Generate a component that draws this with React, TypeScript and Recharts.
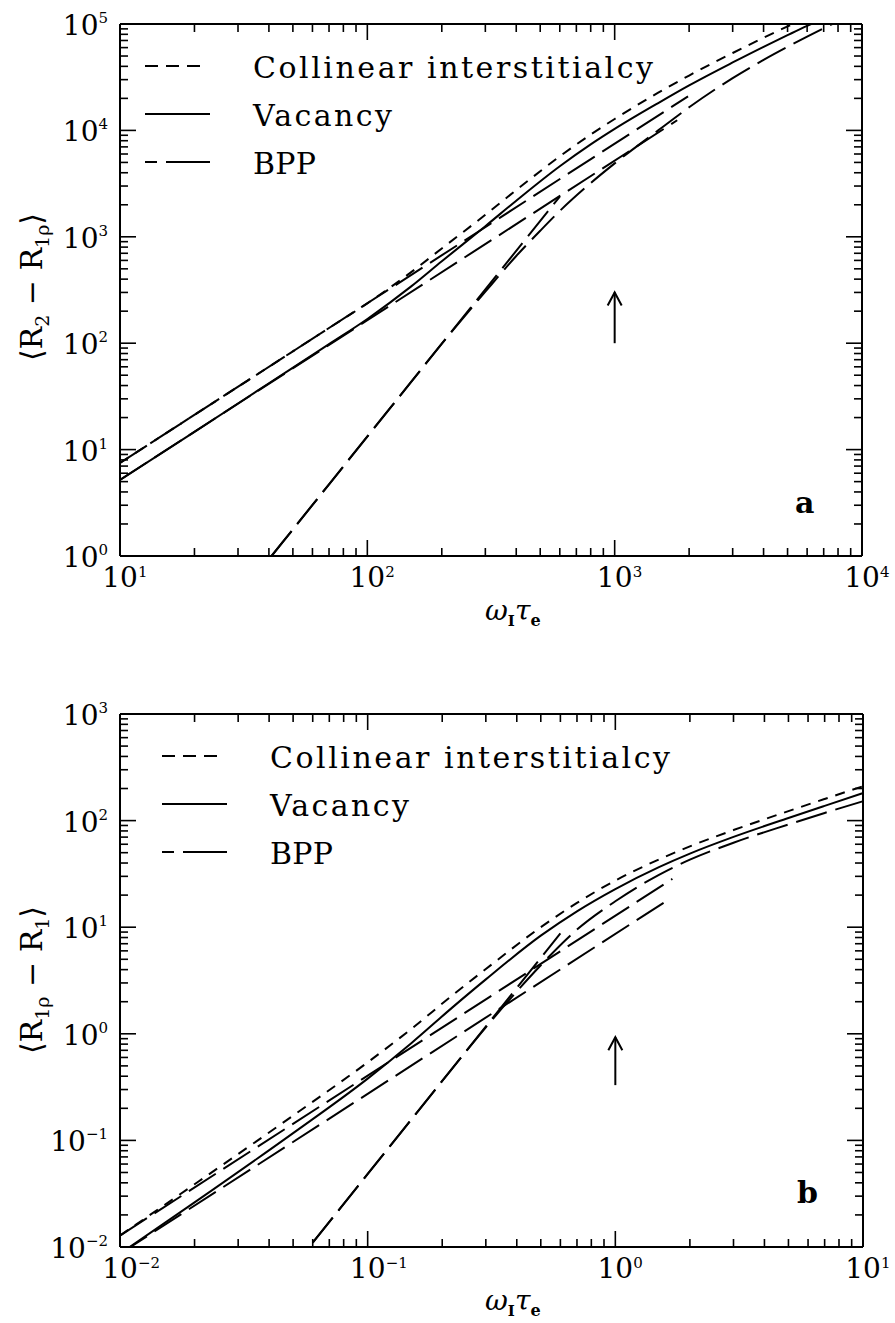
import React from 'react';
import { LineChart, Line, XAxis, YAxis, Legend, Customized } from 'recharts';

const FONT = "'DejaVu Serif', 'Liberation Serif', serif";

// ---------- Panel a : <R2 - R1rho> vs omega_I tau_e ----------
const collA_x = [10, 20, 40, 70, 100, 150, 200, 300, 400, 600, 800, 1000, 1500, 2000, 3000, 4000, 5000, 5600];
const collA_y = [7.5, 21.2, 60, 139, 237, 463, 777, 1610, 2750, 5700, 9150, 12800, 22600, 32800, 53400, 74300, 94900, 107000];
const vacA_x = [10, 20, 40, 70, 100, 150, 200, 300, 400, 600, 800, 1000, 1500, 2000, 3000, 4000, 5000, 6000, 6600];
const vacA_y = [5.2, 14.7, 42, 98, 169, 340, 589, 1258, 2183, 4597, 7379, 10320, 18080, 26500, 43500, 61000, 78500, 96000, 106000];
const bppA_x = [41, 60, 100, 150, 200, 300, 400, 500, 600, 800, 1000, 1500, 2000, 3000, 4000, 5000, 6000, 7000, 8000];
const bppA_y = [1, 3.02, 13.3, 43, 99, 305, 660, 1140, 1750, 3200, 4900, 10000, 16500, 31000, 46000, 61000, 76000, 91000, 106000];
const asymCA_x = [10, 1980];
const asymCA_y = [7.5, 20900];
const asymVA_x = [10, 1790];
const asymVA_y = [5.2, 12450];
const asymBA_x = [41, 600];
const asymBA_y = [1, 2390];
const arrowA_x = [1000, 1000];
const arrowA_y = [100, 300];

// ---------- Panel b : <R1rho - R1> vs omega_I tau_e ----------
const collB_x = [0.01, 0.02, 0.05, 0.1, 0.15, 0.22, 0.3, 0.5, 0.7, 1, 1.5, 2, 3, 5, 7, 10];
const collB_y = [0.0128, 0.0388, 0.171, 0.54, 1.11, 2.3, 4.05, 10.0, 16.9, 27.4, 43.2, 57.3, 81.5, 122.7, 159.5, 209.9];
const vacB_x = [0.01, 0.02, 0.05, 0.1, 0.15, 0.22, 0.3, 0.5, 0.7, 1, 1.5, 2, 3, 5, 7, 10];
const vacB_y = [0.00865, 0.0262, 0.117, 0.38, 0.816, 1.77, 3.24, 8.33, 14.1, 22.8, 36.6, 49.0, 70.3, 105.8, 137.5, 181];
const bppB_x = [0.06, 0.1, 0.15, 0.2, 0.3, 0.4, 0.5, 0.7, 1, 1.5, 2, 3, 5, 7, 10];
const bppB_y = [0.011, 0.0484, 0.157, 0.361, 1.15, 2.5, 4.4, 9.5, 17.5, 31, 43, 62, 92, 118, 152];
const asymCB_x = [0.01, 1.7];
const asymCB_y = [0.0128, 28.4];
const asymVB_x = [0.01, 1.6];
const asymVB_y = [0.00865, 17.5];
const asymBB_x = [0.06, 0.6];
const asymBB_y = [0.011, 8.74];
const arrowB_x = [1, 1];
const arrowB_y = [0.33, 0.93];

// ---------- ticks ----------
const ticksXA = [10, 20, 30, 40, 50, 60, 70, 80, 90, 100, 200, 300, 400, 500, 600, 700, 800, 900, 1000, 2000, 3000, 4000, 5000, 6000, 7000, 8000, 9000, 10000];
const ticksYA = [1, 2, 3, 4, 5, 6, 7, 8, 9, 10, 20, 30, 40, 50, 60, 70, 80, 90, 100, 200, 300, 400, 500, 600, 700, 800, 900, 1000, 2000, 3000, 4000, 5000, 6000, 7000, 8000, 9000, 10000, 20000, 30000, 40000, 50000, 60000, 70000, 80000, 90000, 100000];
const ticksXB = [0.01, 0.02, 0.03, 0.04, 0.05, 0.06, 0.07, 0.08, 0.09, 0.1, 0.2, 0.3, 0.4, 0.5, 0.6, 0.7, 0.8, 0.9, 1, 2, 3, 4, 5, 6, 7, 8, 9, 10];
const ticksYB = [0.01, 0.02, 0.03, 0.04, 0.05, 0.06, 0.07, 0.08, 0.09, 0.1, 0.2, 0.3, 0.4, 0.5, 0.6, 0.7, 0.8, 0.9, 1, 2, 3, 4, 5, 6, 7, 8, 9, 10, 20, 30, 40, 50, 60, 70, 80, 90, 100, 200, 300, 400, 500, 600, 700, 800, 900, 1000];

const legendNames = ['Collinear interstitialcy', 'Vacancy', 'BPP'];

const zip = (xs: number[], ys: number[]) => xs.map((x, i) => ({ x, y: ys[i] }));

const isMajor = (v: number) => Math.abs(Math.log10(v) - Math.round(Math.log10(v))) < 1e-6;
const fmtExp = (v: number) => {
  const e = Math.round(Math.log10(v));
  return e < 0 ? '\u2212' + String(-e) : String(e);
};

const MAJ = 16;
const MIN = 8;

function BottomTick(props: any) {
  const { x, y, payload, showLabel } = props;
  const v = payload.value;
  const major = isMajor(v);
  return (
    <g>
      <line x1={x} x2={x} y1={y} y2={y - (major ? MAJ : MIN)} stroke="#000" strokeWidth={1.6} />
      {showLabel && major ? (
        <g>
          <text x={x} y={y + 31} textAnchor="middle" fontFamily={FONT} fontSize={28} fill="#000">10</text>
          <text x={x + 18} y={y + 21} textAnchor="start" fontFamily={FONT} fontSize={15} fill="#000">{fmtExp(v)}</text>
        </g>
      ) : null}
    </g>
  );
}

function TopTick(props: any) {
  const { x, y, payload } = props;
  const major = isMajor(payload.value);
  return <line x1={x} x2={x} y1={y} y2={y + (major ? MAJ : MIN)} stroke="#000" strokeWidth={1.6} />;
}

function LeftTick(props: any) {
  const { x, y, payload } = props;
  const v = payload.value;
  const major = isMajor(v);
  return (
    <g>
      <line x1={x} x2={x + (major ? MAJ : MIN)} y1={y} y2={y} stroke="#000" strokeWidth={1.6} />
      {major ? (
        <text x={x - 12} y={y + 11} textAnchor="end" fontFamily={FONT} fontSize={28} fill="#000">
          10<tspan dy={-12} fontSize={15}>{fmtExp(v)}</tspan>
        </text>
      ) : null}
    </g>
  );
}

function RightTick(props: any) {
  const { x, y, payload } = props;
  const major = isMajor(payload.value);
  return <line x1={x} x2={x - (major ? MAJ : MIN)} y1={y} y2={y} stroke="#000" strokeWidth={1.6} />;
}

const SHORT = '10 8';
const LONG = '32 9';

function LegendBox() {
  const dashes = ['13 8', undefined, '12 9 100'];
  const lens = [55, 65, 65];
  const widths = [400, 139, 63];
  return (
    <svg width={640} height={140} style={{ display: 'block', overflow: 'visible' }}>
      {legendNames.map((n, i) => (
        <g key={n}>
          <line x1={5} x2={5 + lens[i]} y1={26 + 48 * i} y2={26 + 48 * i} stroke="#000" strokeWidth={2} strokeDasharray={dashes[i]} />
          <text x={113} y={38 + 48 * i} fontFamily={FONT} fontSize={30} fill="#000" textLength={widths[i]} lengthAdjust="spacing">{n}</text>
        </g>
      ))}
    </svg>
  );
}

const arrowDot = (p: any) => {
  if (p.index === 1) {
    return (
      <path key={'ah' + p.index} d={`M${p.cx - 7},${p.cy + 13} L${p.cx},${p.cy} L${p.cx + 7},${p.cy + 13}`} fill="none" stroke="#000" strokeWidth={2} />
    );
  }
  return <g key={'ad' + p.index} />;
};

type Pts = { x: number; y: number }[];
type PanelProps = {
  top: number;
  height: number;
  plotBottom: number;
  plotRight: number;
  domX: [number, number];
  domY: [number, number];
  ticksX: number[];
  ticksY: number[];
  coll: Pts;
  vac: Pts;
  bpp: Pts;
  asymC: Pts;
  asymV: Pts;
  asymB: Pts;
  arrow: Pts;
  legendLeft: number;
  letter: string;
  letterX: number;
  letterY: number;
  yTitle: React.ReactNode;
  titleY: number;
};

function Panel(p: PanelProps) {
  const Titles = () => (
    <g>
      <text transform={`translate(42,${p.titleY}) rotate(-90)`} textAnchor="middle" fontFamily={FONT} fontSize={30} fill="#000">
        {p.yTitle}
      </text>
      <text x={485} y={620} fontFamily={FONT} fontSize={28} fill="#000">
        <tspan fontStyle="italic">ω</tspan>
        <tspan fontSize={15} dy={6} fontWeight="bold">I</tspan>
        <tspan dy={-6} fontStyle="italic">τ</tspan>
        <tspan fontSize={16} dy={6} fontWeight="bold">e</tspan>
      </text>
      <text x={p.letterX} y={p.letterY} fontFamily={FONT} fontSize={30} fontWeight="bold" fill="#000">{p.letter}</text>
    </g>
  );
  // axes take 1px each; plot area = [120, plotRight] x [24, plotBottom]
  const margin = { top: 23, left: 119, right: 895 - p.plotRight - 1, bottom: p.height - p.plotBottom - 1 };
  const axisLine = { stroke: '#000', strokeWidth: 2 };
  return (
    <div style={{ position: 'absolute', left: 0, top: p.top, width: 895, height: p.height }}>
      <LineChart width={895} height={p.height} margin={margin}>
        <XAxis xAxisId={0} dataKey="x" type="number" scale="log" domain={p.domX} ticks={p.ticksX} interval={0} allowDataOverflow height={1} tickSize={0} tickMargin={0} tickLine={false} axisLine={axisLine} tick={<BottomTick showLabel />} />
        <XAxis xAxisId="top" orientation="top" dataKey="x" type="number" scale="log" domain={p.domX} ticks={p.ticksX} interval={0} allowDataOverflow height={1} tickSize={0} tickMargin={0} tickLine={false} axisLine={axisLine} tick={<TopTick />} />
        <YAxis yAxisId={0} type="number" scale="log" domain={p.domY} ticks={p.ticksY} interval={0} allowDataOverflow width={1} tickSize={0} tickMargin={0} tickLine={false} axisLine={axisLine} tick={<LeftTick />} />
        <YAxis yAxisId="right" orientation="right" type="number" scale="log" domain={p.domY} ticks={p.ticksY} interval={0} allowDataOverflow width={1} tickSize={0} tickMargin={0} tickLine={false} axisLine={axisLine} tick={<RightTick />} />
        <Line data={p.asymC} dataKey="y" type="linear" stroke="#000" strokeWidth={2} strokeDasharray={LONG} dot={false} activeDot={false} isAnimationActive={false} />
        <Line data={p.asymV} dataKey="y" type="linear" stroke="#000" strokeWidth={2} strokeDasharray={LONG} dot={false} activeDot={false} isAnimationActive={false} />
        <Line data={p.asymB} dataKey="y" type="linear" stroke="#000" strokeWidth={2} strokeDasharray={LONG} dot={false} activeDot={false} isAnimationActive={false} />
        <Line data={p.bpp} dataKey="y" type="monotone" stroke="#000" strokeWidth={2} strokeDasharray={LONG} dot={false} activeDot={false} isAnimationActive={false} />
        <Line data={p.vac} dataKey="y" type="monotone" stroke="#000" strokeWidth={2} dot={false} activeDot={false} isAnimationActive={false} />
        <Line data={p.coll} dataKey="y" type="monotone" stroke="#000" strokeWidth={2} strokeDasharray={SHORT} dot={false} activeDot={false} isAnimationActive={false} />
        <Line data={p.arrow} dataKey="y" type="linear" stroke="#000" strokeWidth={2} dot={arrowDot} activeDot={false} isAnimationActive={false} />
        <Legend layout="vertical" align="center" verticalAlign="middle" content={() => <LegendBox />} wrapperStyle={{ left: p.legendLeft, top: 40, width: 640, height: 140 }} />
        <Customized component={Titles} />
      </LineChart>
    </div>
  );
}

const yTitleA = (
  <>
    ⟨R<tspan dy={7} fontSize={19}>2</tspan>
    <tspan dy={-7}>{'  \u2212  '}R</tspan>
    <tspan dy={7} fontSize={19}>1ρ</tspan>
    <tspan dy={-7}>⟩</tspan>
  </>
);
const yTitleB = (
  <>
    ⟨R<tspan dy={7} fontSize={19}>1ρ</tspan>
    <tspan dy={-7}>{'  \u2212  '}R</tspan>
    <tspan dy={7} fontSize={19}>1</tspan>
    <tspan dy={-7}>⟩</tspan>
  </>
);

export default function App() {
  return (
    <div style={{ position: 'absolute', left: 0, top: 0, width: 895, height: 1323, background: '#fff' }}>
      <Panel
        top={0}
        height={660}
        plotBottom={556}
        plotRight={862}
        domX={[10, 10000]}
        domY={[1, 100000]}
        ticksX={ticksXA}
        ticksY={ticksYA}
        coll={zip(collA_x, collA_y)}
        vac={zip(vacA_x, vacA_y)}
        bpp={zip(bppA_x, bppA_y)}
        asymC={zip(asymCA_x, asymCA_y)}
        asymV={zip(asymVA_x, asymVA_y)}
        asymB={zip(asymBA_x, asymBA_y)}
        arrow={zip(arrowA_x, arrowA_y)}
        legendLeft={140}
        letter="a"
        letterX={795}
        letterY={513}
        yTitle={yTitleA}
        titleY={287}
      />
      <Panel
        top={690}
        height={633}
        plotBottom={557}
        plotRight={863}
        domX={[0.01, 10]}
        domY={[0.01, 1000]}
        ticksX={ticksXB}
        ticksY={ticksYB}
        coll={zip(collB_x, collB_y)}
        vac={zip(vacB_x, vacB_y)}
        bpp={zip(bppB_x, bppB_y)}
        asymC={zip(asymCB_x, asymCB_y)}
        asymV={zip(asymVB_x, asymVB_y)}
        asymB={zip(asymBB_x, asymBB_y)}
        arrow={zip(arrowB_x, arrowB_y)}
        legendLeft={157}
        letter="b"
        letterX={797}
        letterY={513}
        yTitle={yTitleB}
        titleY={290}
      />
    </div>
  );
}
